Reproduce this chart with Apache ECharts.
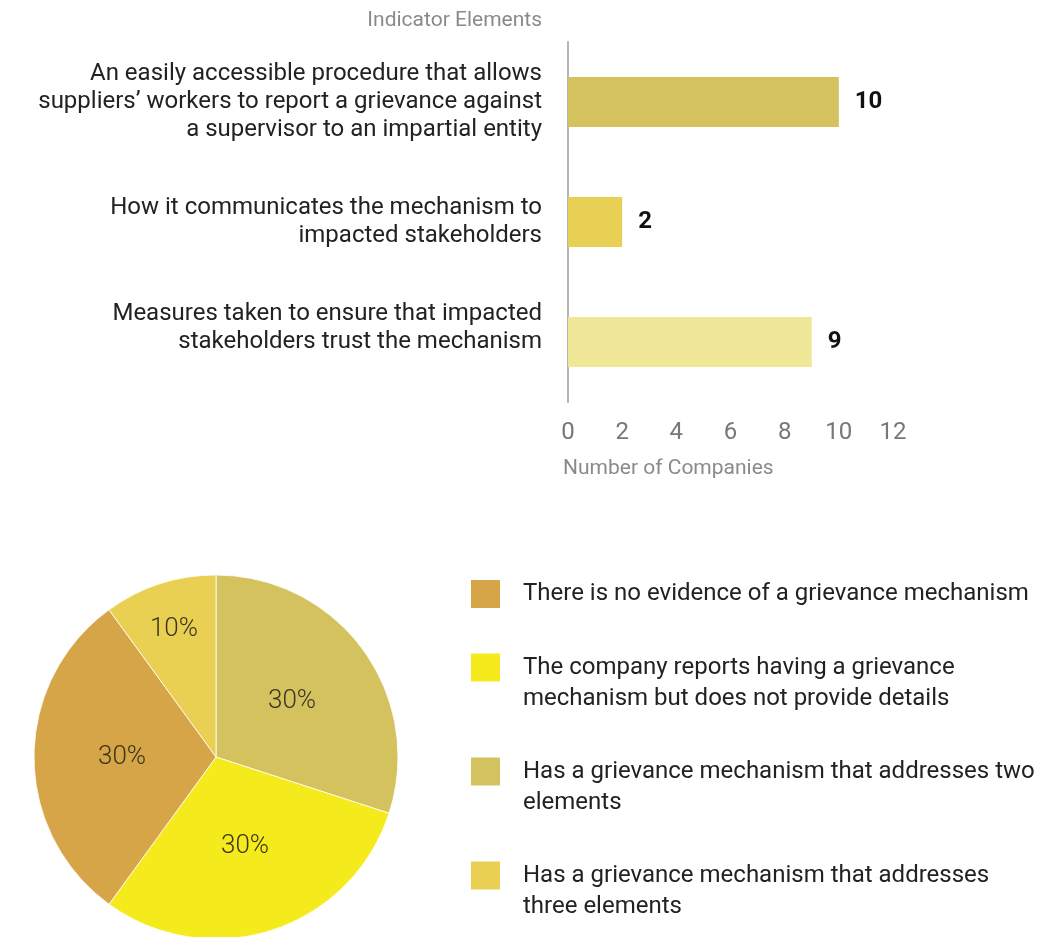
<!DOCTYPE html>
<html>
<head>
<meta charset="utf-8">
<script src="https://cdn.jsdelivr.net/npm/echarts@6/dist/echarts.min.js"></script>
<style>
  html, body { margin: 0; padding: 0; background: #ffffff; }
  #chart { width: 1053px; height: 937px; }
</style>
</head>
<body>
<div id="chart"></div>
<script>
// Indicator elements covered by companies' grievance mechanisms
const indicatorLabels = [
  'An easily accessible procedure that allows\nsuppliers\u2019 workers to report a grievance against\na supervisor to an impartial entity',
  'How it communicates the mechanism to\nimpacted stakeholders',
  'Measures taken to ensure that impacted\nstakeholders trust the mechanism'
];
const companyCounts = [10, 2, 9];
const barColors = ['#d4c25f', '#e8d054', '#f0e898'];
const countAxisMin = 0;
const countAxisMax = 12;
const countAxisStep = 2;

// Share of companies by grievance mechanism status (clockwise from 12 o'clock)
const mechanismCategories = [
  'Has a grievance mechanism that addresses two\nelements',
  'The company reports having a grievance\nmechanism but does not provide details',
  'There is no evidence of a grievance mechanism',
  'Has a grievance mechanism that addresses\nthree elements'
];
const mechanismShares = [30, 30, 30, 10];
const sliceColors = ['#d4c25f', '#f5ea1c', '#d6a547', '#e9cf52'];
const legendOrder = [2, 1, 0, 3];

const FONT = 'Roboto, "Noto Sans", "Liberation Sans", sans-serif';

const chart = echarts.init(document.getElementById('chart'), null, { renderer: 'canvas' });

chart.setOption({
  animation: false,
  textStyle: { fontFamily: FONT },
  grid: { left: 568, top: 42, width: 325, height: 360, containLabel: false },
  xAxis: {
    type: 'value',
    min: countAxisMin,
    max: countAxisMax,
    interval: countAxisStep,
    axisLine: { show: false },
    axisTick: { show: false },
    splitLine: { show: false },
    axisLabel: { fontFamily: FONT, fontSize: 24, color: '#777777', margin: 19 },
    name: 'Number of Companies',
    nameLocation: 'start',
    nameGap: 5,
    nameTextStyle: {
      fontFamily: FONT, fontSize: 21, color: '#8a8a8a',
      align: 'left', verticalAlign: 'top', padding: [56, 0, 0, 0]
    }
  },
  yAxis: {
    type: 'category',
    inverse: true,
    data: indicatorLabels,
    axisLine: { show: true, lineStyle: { color: '#b5b5b5', width: 2 } },
    axisTick: { show: false },
    axisLabel: {
      fontFamily: FONT, fontSize: 24, lineHeight: 28, color: '#222222', margin: 26, align: 'right',
      // the last label sits a half line above its bar
      formatter: function (value, index) {
        return index === indicatorLabels.length - 1 ? value + '\n' : value;
      }
    },
    name: 'Indicator Elements',
    nameLocation: 'start',
    nameGap: 21,
    nameTextStyle: {
      fontFamily: FONT, fontSize: 21, color: '#8a8a8a',
      align: 'right', verticalAlign: 'middle', padding: [0, 26, 0, 0]
    }
  },
  legend: {
    orient: 'vertical',
    left: 469,
    top: 578,
    height: 420,
    padding: 0,
    itemGap: 11,
    itemWidth: 31,
    itemHeight: 30,
    icon: 'rect',
    selectedMode: false,
    // two-line entries start level with their swatch
    formatter: function (name) {
      return name.indexOf('\n') >= 0 ? '\n' + name : name;
    },
    textStyle: { fontFamily: FONT, fontSize: 24, lineHeight: 31, color: '#222222', padding: [0, 0, 0, 17] },
    data: legendOrder.map(function (i) { return mechanismCategories[i]; })
  },
  series: [
    {
      type: 'bar',
      data: companyCounts.map(function (v, i) {
        return { value: v, itemStyle: { color: barColors[i] } };
      }),
      barWidth: 50,
      label: {
        show: true,
        position: 'right',
        distance: 16,
        fontFamily: FONT,
        fontSize: 24,
        fontWeight: 'bold',
        color: '#111111'
      }
    },
    {
      type: 'pie',
      center: [216, 757],
      radius: [0, 182],
      startAngle: 90,
      clockwise: true,
      data: mechanismCategories.map(function (name, i) {
        return { name: name, value: mechanismShares[i], itemStyle: { color: sliceColors[i] } };
      }),
      itemStyle: { borderColor: '#ffffff', borderWidth: 0.8 },
      label: {
        show: true,
        position: 'inside',
        formatter: '{d}%',
        fontFamily: FONT,
        fontSize: 26,
        fontWeight: 300,
        color: '#3a3520'
      },
      labelLine: { show: false },
      labelLayout: function (p) {
        // the narrow slice carries its label further out toward the rim
        if (p.dataIndex === 3) { return { dx: -13, dy: -38 }; }
        return {};
      },
      emphasis: { disabled: true }
    }
  ]
});
</script>
</body>
</html>
